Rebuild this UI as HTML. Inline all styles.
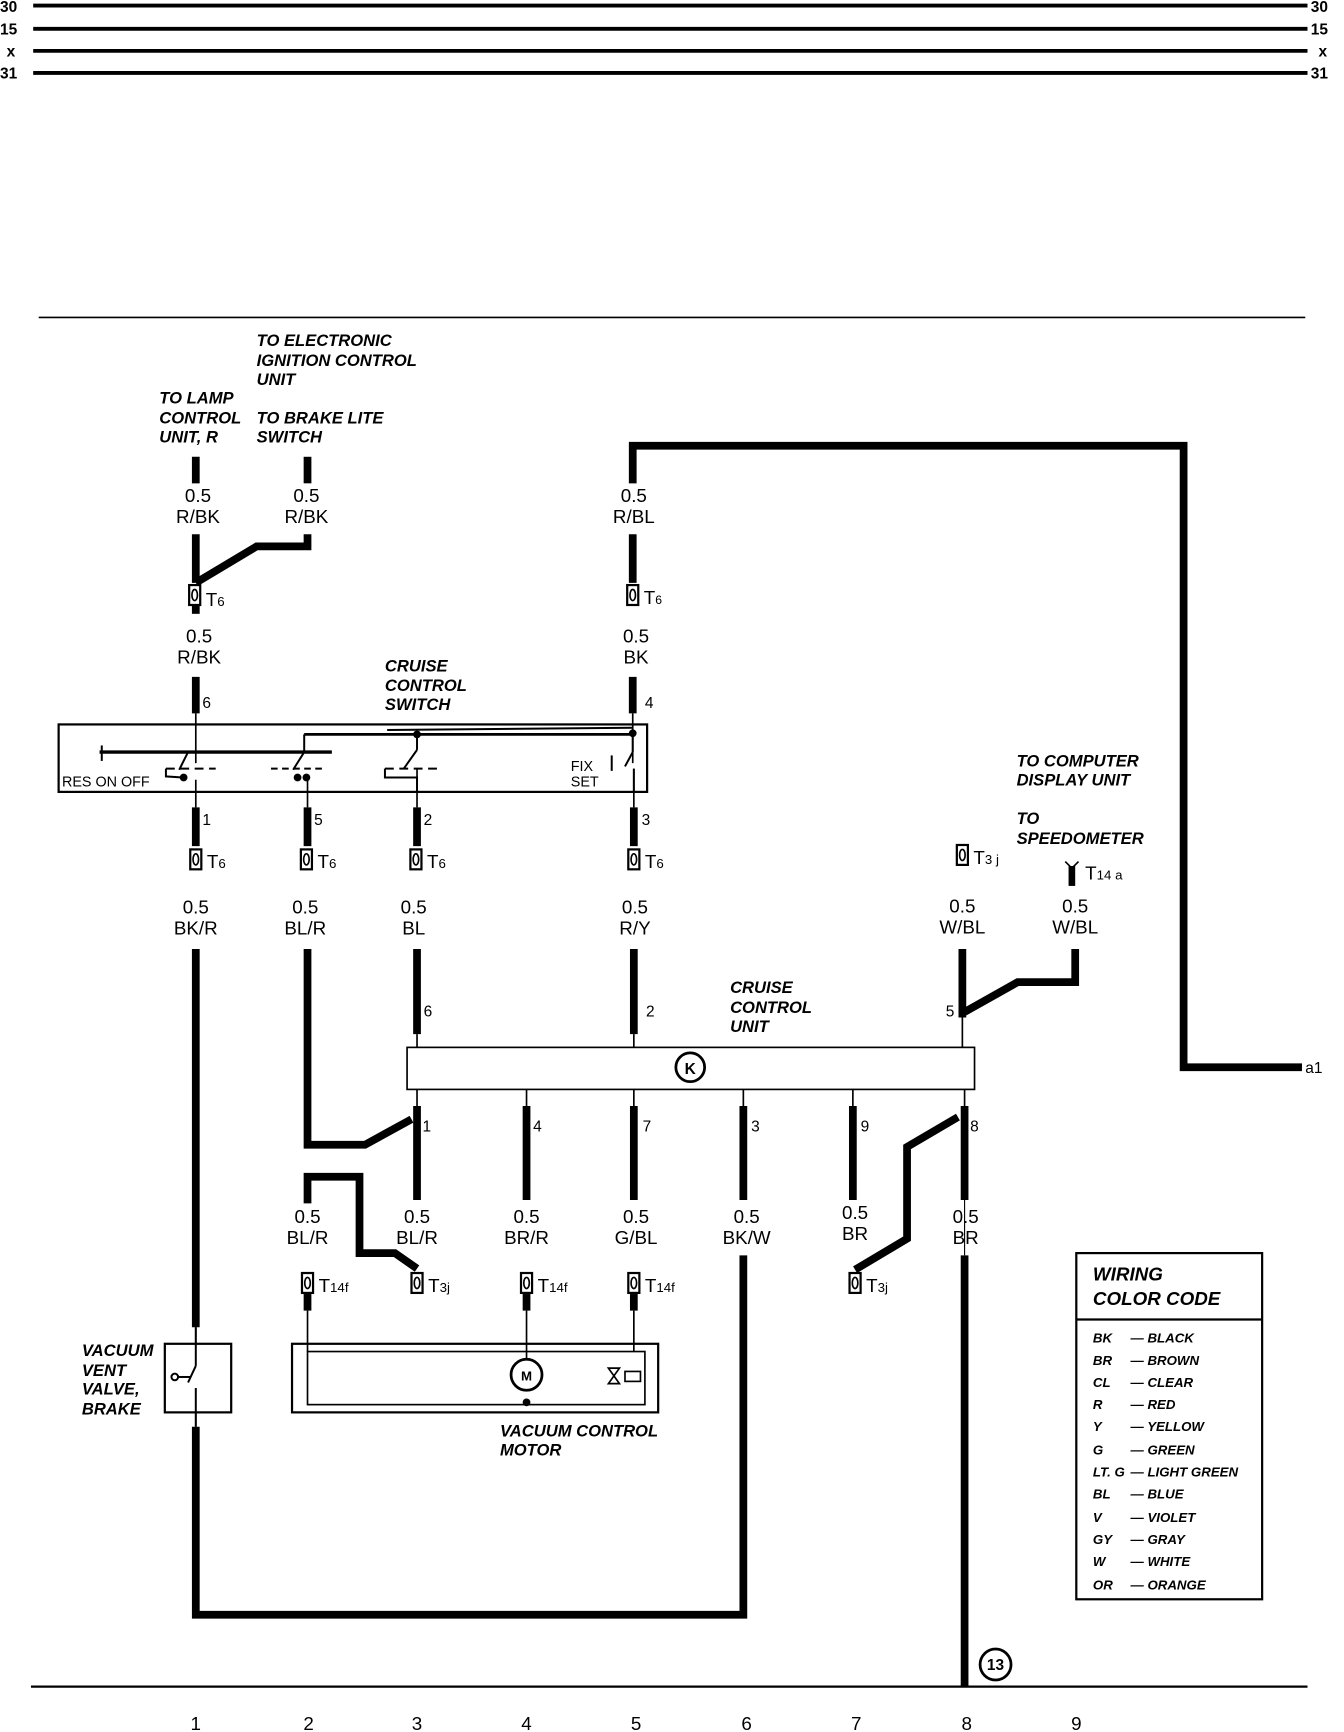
<!DOCTYPE html>
<html><head><meta charset="utf-8"><style>
html,body{margin:0;padding:0;background:#fff;}
svg{display:block;}
text{font-family:"Liberation Sans",sans-serif;fill:#000;}
.l{font-size:17px;}
.n{font-size:14px;}
.h{font-size:15px;font-weight:bold;font-style:italic;}
.c{font-size:12px;font-weight:bold;font-style:italic;}
.b{font-size:14px;font-weight:bold;}
</style></head><body>
<svg width="1344" height="1732" viewBox="0 0 1215 1566" preserveAspectRatio="none" xmlns="http://www.w3.org/2000/svg">
<defs>
<g id="t"><rect x="-5" y="-9" width="10" height="18" fill="#fff" stroke="#000" stroke-width="2"/><ellipse cx="0" cy="0" rx="2.5" ry="5" fill="none" stroke="#000" stroke-width="1.5"/></g>
</defs>
<g stroke="#000" stroke-width="3.5">
<line x1="30" y1="5" x2="1182" y2="5"/><line x1="30" y1="26" x2="1182" y2="26"/>
<line x1="30" y1="46" x2="1182" y2="46"/><line x1="30" y1="66" x2="1182" y2="66"/>
</g>
<g class="b">
<text x="0" y="11">30</text><text x="0" y="31">15</text><text x="6" y="51">x</text><text x="0" y="71">31</text>
<text x="1185" y="11">30</text><text x="1185" y="31">15</text><text x="1192" y="51">x</text><text x="1185" y="71">31</text>
</g>
<line x1="35" y1="287" x2="1180" y2="287" stroke="#000" stroke-width="1.5"/>
<line x1="28" y1="1525" x2="1182" y2="1525" stroke="#000" stroke-width="2"/>
<g class="l" text-anchor="middle">
<text x="177" y="1564">1</text><text x="279" y="1564">2</text><text x="377" y="1564">3</text><text x="476" y="1564">4</text><text x="575" y="1564">5</text><text x="675" y="1564">6</text><text x="774" y="1564">7</text><text x="874" y="1564">8</text><text x="973" y="1564">9</text>
</g>
<g class="h">
<text x="232" y="313">TO ELECTRONIC</text><text x="232" y="331">IGNITION CONTROL</text><text x="232" y="348">UNIT</text>
<text x="144" y="365">TO LAMP</text><text x="144" y="383">CONTROL</text><text x="144" y="400">UNIT, R</text>
<text x="232" y="383">TO BRAKE LITE</text><text x="232" y="400">SWITCH</text>
<text x="348" y="607">CRUISE</text><text x="348" y="625">CONTROL</text><text x="348" y="642">SWITCH</text>
<text x="919" y="693">TO COMPUTER</text><text x="919" y="710">DISPLAY UNIT</text>
<text x="919" y="745">TO</text><text x="919" y="763">SPEEDOMETER</text>
<text x="660" y="898">CRUISE</text><text x="660" y="916">CONTROL</text><text x="660" y="933">UNIT</text>
<text x="74" y="1226">VACUUM</text><text x="74" y="1244">VENT</text><text x="74" y="1261">VALVE,</text><text x="74" y="1279">BRAKE</text>
<text x="452" y="1299">VACUUM CONTROL</text><text x="452" y="1316">MOTOR</text>
</g>
<g stroke="#000" stroke-width="7" fill="none" stroke-linejoin="miter">
<line x1="177" y1="413" x2="177" y2="437"/><line x1="278" y1="413" x2="278" y2="437"/>
<polyline points="177,483 177,527"/><polyline points="278,483 278,494 232,494 177,527"/>
<line x1="177" y1="547" x2="177" y2="555"/>
<line x1="177" y1="612" x2="177" y2="645"/>
<polyline points="572,437 572,403 1070,403 1070,965 1177,965"/>
<line x1="572" y1="483" x2="572" y2="527"/>
<line x1="572" y1="612" x2="572" y2="645"/>
<line x1="177" y1="730" x2="177" y2="765"/><line x1="278" y1="730" x2="278" y2="765"/><line x1="377" y1="730" x2="377" y2="765"/><line x1="573" y1="730" x2="573" y2="765"/>
<polyline points="177,858 177,1200"/>
<polyline points="177,1290 177,1460 672,1460 672,1135"/>
<polyline points="278,858 278,1035 330,1035 372,1012"/>
<line x1="377" y1="858" x2="377" y2="935"/><line x1="573" y1="858" x2="573" y2="935"/>
<line x1="870" y1="858" x2="870" y2="920"/>
<polyline points="972,858 972,888 920,888 872,915"/>
<line x1="377" y1="1000" x2="377" y2="1085"/><line x1="476" y1="1000" x2="476" y2="1085"/><line x1="573" y1="1000" x2="573" y2="1085"/><line x1="672" y1="1000" x2="672" y2="1085"/><line x1="771" y1="1000" x2="771" y2="1085"/>
<line x1="872" y1="1000" x2="872" y2="1085"/>
<line x1="872" y1="1135" x2="872" y2="1525"/>
<polyline points="278,1088 278,1064 325,1064 325,1133 357,1133 377,1147"/>
<polyline points="773,1148 820,1120 820,1037 866,1010"/>
<line x1="278" y1="1170" x2="278" y2="1185"/><line x1="476" y1="1170" x2="476" y2="1185"/><line x1="573" y1="1170" x2="573" y2="1185"/>
</g>
<g stroke="#000" stroke-width="1.5" fill="none">
<line x1="177" y1="645" x2="177" y2="690"/><line x1="572" y1="645" x2="572" y2="690"/>
<line x1="177" y1="705" x2="177" y2="730"/><line x1="278" y1="705" x2="278" y2="730"/><line x1="377" y1="695" x2="377" y2="730"/><line x1="573" y1="695" x2="573" y2="730"/>
<line x1="377" y1="935" x2="377" y2="947"/><line x1="573" y1="935" x2="573" y2="947"/><line x1="870" y1="920" x2="870" y2="947"/>
<line x1="377" y1="985" x2="377" y2="1000"/><line x1="476" y1="985" x2="476" y2="1000"/><line x1="573" y1="985" x2="573" y2="1000"/><line x1="672" y1="985" x2="672" y2="1000"/><line x1="771" y1="985" x2="771" y2="1000"/><line x1="872" y1="985" x2="872" y2="1000"/>
<line x1="278" y1="1185" x2="278" y2="1222"/><line x1="476" y1="1185" x2="476" y2="1230"/><line x1="573" y1="1185" x2="573" y2="1222"/>
<line x1="177" y1="1200" x2="177" y2="1290"/>
</g>
<rect x="53" y="655" width="532" height="61" fill="none" stroke="#000" stroke-width="2"/>
<g stroke="#000" stroke-width="1.8" fill="none">
<line x1="90" y1="680" x2="300" y2="680" stroke-width="3"/>
<line x1="275" y1="664" x2="572" y2="664" stroke-width="2.5"/>
<line x1="350" y1="660" x2="572" y2="658"/>
<line x1="92" y1="674" x2="92" y2="688"/>
<line x1="170" y1="680" x2="162" y2="696"/><line x1="150" y1="695" x2="195" y2="695" stroke-dasharray="8,5"/>
<polyline points="150,695 150,702 165,703"/>
<line x1="275" y1="664" x2="275" y2="680"/><line x1="275" y1="680" x2="265" y2="696"/>
<line x1="245" y1="695" x2="295" y2="695" stroke-dasharray="6,4"/>
<line x1="377" y1="664" x2="377" y2="678"/><line x1="377" y1="678" x2="365" y2="695"/>
<line x1="348" y1="695" x2="395" y2="695" stroke-dasharray="8,5"/>
<polyline points="348,695 348,703 377,703 377,716"/>
<line x1="572" y1="664" x2="572" y2="680"/><line x1="572" y1="680" x2="565" y2="693"/><line x1="553" y1="683" x2="553" y2="697"/><line x1="573" y1="695" x2="573" y2="716"/>
</g>
<g fill="#000"><circle cx="166" cy="703" r="3.5"/><circle cx="269" cy="703" r="3.5"/><circle cx="277" cy="703" r="3.5"/><circle cx="377" cy="664" r="3.5"/><circle cx="572" cy="663" r="3.5"/></g>
<text x="56" y="711" style="font-size:13px">RES ON OFF</text>
<text x="516" y="697" style="font-size:13px">FIX</text><text x="516" y="711" style="font-size:13px">SET</text>
<g class="l" text-anchor="middle">
<text x="179" y="454">0.5</text><text x="179" y="473">R/BK</text>
<text x="277" y="454">0.5</text><text x="277" y="473">R/BK</text>
<text x="573" y="454">0.5</text><text x="573" y="473">R/BL</text>
<text x="180" y="581">0.5</text><text x="180" y="600">R/BK</text>
<text x="575" y="581">0.5</text><text x="575" y="600">BK</text>
<text x="177" y="826">0.5</text><text x="177" y="845">BK/R</text>
<text x="276" y="826">0.5</text><text x="276" y="845">BL/R</text>
<text x="374" y="826">0.5</text><text x="374" y="845">BL</text>
<text x="574" y="826">0.5</text><text x="574" y="845">R/Y</text>
<text x="870" y="825">0.5</text><text x="870" y="844">W/BL</text>
<text x="972" y="825">0.5</text><text x="972" y="844">W/BL</text>
<text x="278" y="1106">0.5</text><text x="278" y="1125">BL/R</text>
<text x="377" y="1106">0.5</text><text x="377" y="1125">BL/R</text>
<text x="476" y="1106">0.5</text><text x="476" y="1125">BR/R</text>
<text x="575" y="1106">0.5</text><text x="575" y="1125">G/BL</text>
<text x="675" y="1106">0.5</text><text x="675" y="1125">BK/W</text>
<text x="773" y="1102">0.5</text><text x="773" y="1121">BR</text>
<text x="873" y="1106">0.5</text><text x="873" y="1125">BR</text>
</g>
<g class="n">
<text x="183" y="640">6</text><text x="583" y="640">4</text>
<text x="183" y="746">1</text><text x="284" y="746">5</text><text x="383" y="746">2</text><text x="580" y="746">3</text>
<text x="383" y="919">6</text><text x="584" y="919">2</text><text x="855" y="919">5</text>
<text x="382" y="1023">1</text><text x="482" y="1023">4</text><text x="581" y="1023">7</text><text x="679" y="1023">3</text><text x="778" y="1023">9</text><text x="877" y="1023">8</text>
<text x="1180" y="970">a1</text>
</g>
<use href="#t" x="176" y="538"/><text x="186" y="548" class="l">T<tspan font-size="12">6</tspan></text>
<use href="#t" x="572" y="538"/><text x="582" y="546" class="l">T<tspan font-size="11">6</tspan></text>
<use href="#t" x="177" y="777"/><text x="187" y="785" class="l">T<tspan font-size="12">6</tspan></text>
<use href="#t" x="277" y="777"/><text x="287" y="785" class="l">T<tspan font-size="12">6</tspan></text>
<use href="#t" x="376" y="777"/><text x="386" y="785" class="l">T<tspan font-size="12">6</tspan></text>
<use href="#t" x="573" y="777"/><text x="583" y="785" class="l">T<tspan font-size="12">6</tspan></text>
<use href="#t" x="870" y="773"/><text x="880" y="781" class="l">T<tspan font-size="12">3 j</tspan></text>
<rect x="966" y="783" width="6" height="18" fill="#000"/><path d="M963 779 L969 785 L975 779" stroke="#000" fill="none" stroke-width="1.5"/><text x="981" y="795" class="l">T<tspan font-size="12">14 a</tspan></text>
<use href="#t" x="278" y="1160"/><text x="288" y="1168" class="l">T<tspan font-size="12">14f</tspan></text>
<use href="#t" x="377" y="1160"/><text x="387" y="1168" class="l">T<tspan font-size="12">3j</tspan></text>
<use href="#t" x="476" y="1160"/><text x="486" y="1168" class="l">T<tspan font-size="12">14f</tspan></text>
<use href="#t" x="573" y="1160"/><text x="583" y="1168" class="l">T<tspan font-size="12">14f</tspan></text>
<use href="#t" x="773" y="1160"/><text x="783" y="1168" class="l">T<tspan font-size="12">3j</tspan></text>
<rect x="368" y="947" width="513" height="38" fill="#fff" stroke="#000" stroke-width="1.5"/>
<circle cx="624" cy="965" r="13" fill="none" stroke="#000" stroke-width="2.5"/><text x="624" y="971" class="b" text-anchor="middle">K</text>
<rect x="149" y="1215" width="60" height="62" fill="#fff" stroke="#000" stroke-width="2"/>
<g stroke="#000" stroke-width="1.8" fill="none"><line x1="177" y1="1200" x2="177" y2="1235"/><line x1="177" y1="1235" x2="170" y2="1250"/><line x1="177" y1="1255" x2="177" y2="1290"/><circle cx="158" cy="1245" r="3"/><line x1="161" y1="1245" x2="172" y2="1245"/></g>
<rect x="264" y="1215" width="331" height="62" fill="none" stroke="#000" stroke-width="2"/>
<rect x="278" y="1222" width="305" height="48" fill="none" stroke="#000" stroke-width="1.5"/>
<circle cx="476" cy="1243" r="14" fill="#fff" stroke="#000" stroke-width="2.5"/><text x="476" y="1248" text-anchor="middle" style="font-size:12px;font-weight:bold">M</text>
<circle cx="476" cy="1268" r="3.5" fill="#000"/>
<g stroke="#000" stroke-width="1.5" fill="none"><path d="M550 1237 L560 1251 L550 1251 L560 1237 Z"/><rect x="565" y="1240" width="14" height="9"/></g>
<circle cx="900" cy="1505" r="14" fill="none" stroke="#000" stroke-width="2.5"/><text x="900" y="1510" text-anchor="middle" class="b">13</text>
<rect x="973" y="1133" width="168" height="313" fill="none" stroke="#000" stroke-width="2"/>
<line x1="973" y1="1193" x2="1141" y2="1193" stroke="#000" stroke-width="2"/>
<text x="988" y="1158" class="h" style="font-size:17px">WIRING</text><text x="988" y="1180" class="h" style="font-size:17px">COLOR CODE</text>
<g class="c">
<text x="988" y="1214">BK</text><text x="1022" y="1214">— BLACK</text>
<text x="988" y="1234">BR</text><text x="1022" y="1234">— BROWN</text>
<text x="988" y="1254">CL</text><text x="1022" y="1254">— CLEAR</text>
<text x="988" y="1274">R</text><text x="1022" y="1274">— RED</text>
<text x="988" y="1294">Y</text><text x="1022" y="1294">— YELLOW</text>
<text x="988" y="1315">G</text><text x="1022" y="1315">— GREEN</text>
<text x="988" y="1335">LT. G</text><text x="1022" y="1335">— LIGHT GREEN</text>
<text x="988" y="1355">BL</text><text x="1022" y="1355">— BLUE</text>
<text x="988" y="1376">V</text><text x="1022" y="1376">— VIOLET</text>
<text x="988" y="1396">GY</text><text x="1022" y="1396">— GRAY</text>
<text x="988" y="1416">W</text><text x="1022" y="1416">— WHITE</text>
<text x="988" y="1437">OR</text><text x="1022" y="1437">— ORANGE</text>
</g>
<line x1="872" y1="1085" x2="872" y2="1135" stroke="#000" stroke-width="1"/>
</svg>
</body></html>
